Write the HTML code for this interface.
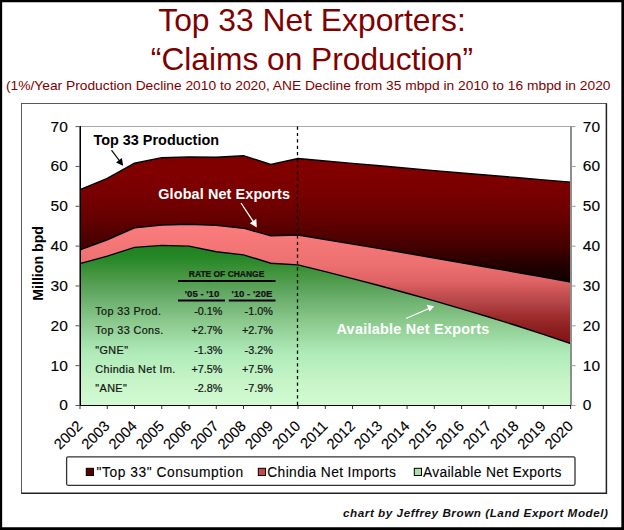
<!DOCTYPE html>
<html><head><meta charset="utf-8"><style>
html,body{margin:0;padding:0;background:#fff;}
body{width:624px;height:530px;overflow:hidden;position:relative;font-family:"Liberation Sans",sans-serif;}
svg{position:absolute;left:0;top:0;}
.ax{font-family:"Liberation Sans",sans-serif;font-size:15.5px;fill:#000;stroke:#000;stroke-width:0.12px;}
.ttl{font-family:"Liberation Sans",sans-serif;fill:#800000;}
.ann{font-family:"Liberation Sans",sans-serif;font-weight:bold;}
.tb{font-family:"Liberation Sans",sans-serif;font-size:10.8px;fill:#151515;stroke:#151515;stroke-width:0.22px;}
.tbh{font-family:"Liberation Sans",sans-serif;font-weight:bold;fill:#111;stroke:#111;stroke-width:0.2px;}
.lg{font-family:"Liberation Sans",sans-serif;font-size:13.8px;fill:#000;stroke:#000;stroke-width:0.1px;}
</style></head><body>
<svg width="624" height="530" viewBox="0 0 624 530">
<defs>
<linearGradient id="gm" gradientUnits="userSpaceOnUse" x1="0" y1="155" x2="0" y2="284"><stop offset="0.000" stop-color="rgb(128,0,0)"/><stop offset="0.155" stop-color="rgb(128,0,0)"/><stop offset="0.310" stop-color="rgb(120,0,0)"/><stop offset="0.504" stop-color="rgb(100,0,0)"/><stop offset="0.698" stop-color="rgb(70,0,0)"/><stop offset="0.791" stop-color="rgb(50,0,0)"/><stop offset="0.868" stop-color="rgb(33,0,0)"/><stop offset="1.000" stop-color="rgb(15,0,0)"/></linearGradient>
<linearGradient id="gp" gradientUnits="userSpaceOnUse" x1="0" y1="224" x2="0" y2="343"><stop offset="0.000" stop-color="rgb(250,125,125)"/><stop offset="0.067" stop-color="rgb(248,122,122)"/><stop offset="0.345" stop-color="rgb(237,112,112)"/><stop offset="0.487" stop-color="rgb(222,98,100)"/><stop offset="0.555" stop-color="rgb(205,85,85)"/><stop offset="0.664" stop-color="rgb(178,68,72)"/><stop offset="0.773" stop-color="rgb(160,45,45)"/><stop offset="0.874" stop-color="rgb(140,32,32)"/><stop offset="1.000" stop-color="rgb(135,18,18)"/></linearGradient>
<linearGradient id="gg" gradientUnits="userSpaceOnUse" x1="0" y1="245" x2="0" y2="405.5"><stop offset="0.000" stop-color="rgb(30,128,30)"/><stop offset="0.081" stop-color="rgb(38,135,38)"/><stop offset="0.187" stop-color="rgb(70,150,65)"/><stop offset="0.299" stop-color="rgb(98,168,100)"/><stop offset="0.474" stop-color="rgb(138,200,140)"/><stop offset="0.673" stop-color="rgb(175,235,185)"/><stop offset="0.860" stop-color="rgb(200,245,200)"/><stop offset="1.000" stop-color="rgb(210,250,210)"/></linearGradient>
</defs>
<rect x="0" y="0" width="624" height="530" fill="#fff"/>
<text x="312" y="31" text-anchor="middle" class="ttl" font-size="31.8">Top 33 Net Exporters:</text>
<text x="312" y="70.2" text-anchor="middle" class="ttl" font-size="31.7">“Claims on Production”</text>
<text x="6" y="90" class="ttl" font-size="13" textLength="604.5" lengthAdjust="spacingAndGlyphs">(1%/Year Production Decline 2010 to 2020, ANE Decline from 35 mbpd in 2010 to 16 mbpd in 2020</text>
<rect x="21.5" y="103.5" width="585" height="390" fill="#fff" stroke="#5a5a5a" stroke-width="1"/>
<path d="M21.5,493.3 L606.4,493.3 L606.4,103.5" fill="none" stroke="#222" stroke-width="1.5"/>
<line x1="80" y1="126.5" x2="571" y2="126.5" stroke="#aaa" stroke-width="1"/>
<path d="M80.00,405.5 L80.00,263.66 107.26,256.09 134.51,247.32 161.77,245.33 189.02,246.13 216.28,251.71 243.53,254.89 270.79,263.26 298.04,264.85 325.30,271.63 352.56,278.61 379.81,285.80 407.07,293.22 434.32,300.88 461.58,308.81 488.83,317.01 516.09,325.52 543.34,334.36 570.60,343.53 L570.60,405.5 Z" fill="url(#gg)"/>
<path d="M80.00,249.91 107.26,239.75 134.51,227.80 161.77,225.01 189.02,224.22 216.28,225.41 243.53,228.20 270.79,235.77 298.04,234.97 325.30,239.51 352.56,244.08 379.81,248.67 407.07,253.31 434.32,257.98 461.58,262.69 488.83,267.44 516.09,272.23 543.34,277.06 570.60,281.95 L570.60,343.53 543.34,334.36 516.09,325.52 488.83,317.01 461.58,308.81 434.32,300.88 407.07,293.22 379.81,285.80 352.56,278.61 325.30,271.63 298.04,264.85 270.79,263.26 243.53,254.89 216.28,251.71 189.02,246.13 161.77,245.33 134.51,247.32 107.26,256.09 80.00,263.66 Z" fill="url(#gp)"/>
<path d="M80.00,189.55 107.26,178.40 134.51,163.26 161.77,157.68 189.02,156.88 216.28,157.28 243.53,155.69 270.79,164.45 298.04,158.47 325.30,160.94 352.56,163.39 379.81,165.81 407.07,168.21 434.32,170.58 461.58,172.93 488.83,175.26 516.09,177.56 543.34,179.84 570.60,182.09 L570.60,281.95 543.34,277.06 516.09,272.23 488.83,267.44 461.58,262.69 434.32,257.98 407.07,253.31 379.81,248.67 352.56,244.08 325.30,239.51 298.04,234.97 270.79,235.77 243.53,228.20 216.28,225.41 189.02,224.22 161.77,225.01 134.51,227.80 107.26,239.75 80.00,249.91 Z" fill="url(#gm)"/>
<path d="M80.00,189.55 107.26,178.40 134.51,163.26 161.77,157.68 189.02,156.88 216.28,157.28 243.53,155.69 270.79,164.45 298.04,158.47 325.30,160.94 352.56,163.39 379.81,165.81 407.07,168.21 434.32,170.58 461.58,172.93 488.83,175.26 516.09,177.56 543.34,179.84 570.60,182.09" fill="none" stroke="#000" stroke-width="1.4"/>
<path d="M80.00,249.91 107.26,239.75 134.51,227.80 161.77,225.01 189.02,224.22 216.28,225.41 243.53,228.20 270.79,235.77 298.04,234.97 325.30,239.51 352.56,244.08 379.81,248.67 407.07,253.31 434.32,257.98 461.58,262.69 488.83,267.44 516.09,272.23 543.34,277.06 570.60,281.95" fill="none" stroke="#000" stroke-width="1.4"/>
<path d="M80.00,263.66 107.26,256.09 134.51,247.32 161.77,245.33 189.02,246.13 216.28,251.71 243.53,254.89 270.79,263.26 298.04,264.85 325.30,271.63 352.56,278.61 379.81,285.80 407.07,293.22 434.32,300.88 461.58,308.81 488.83,317.01 516.09,325.52 543.34,334.36 570.60,343.53" fill="none" stroke="#000" stroke-width="1.4"/>
<line x1="297.5" y1="126.5" x2="297.5" y2="405" stroke="#000" stroke-width="1.3" stroke-dasharray="3.2,3.2"/>
<line x1="80.5" y1="126" x2="80.5" y2="406" stroke="#000" stroke-width="1"/><line x1="79.5" y1="126" x2="79.5" y2="405" stroke="#777" stroke-width="1"/>
<line x1="571" y1="126" x2="571" y2="406" stroke="#8a9090" stroke-width="2"/>
<line x1="76" y1="405.5" x2="571" y2="405.5" stroke="#000" stroke-width="1"/>
<line x1="75.5" y1="405.50" x2="80" y2="405.50" stroke="#555" stroke-width="1"/><line x1="571" y1="405.50" x2="575.5" y2="405.50" stroke="#999" stroke-width="1"/><text x="67.8" y="410.40" text-anchor="end" class="ax">0</text><text x="582.8" y="410.40" class="ax">0</text><line x1="75.5" y1="365.66" x2="80" y2="365.66" stroke="#555" stroke-width="1"/><line x1="571" y1="365.66" x2="575.5" y2="365.66" stroke="#999" stroke-width="1"/><text x="67.8" y="370.56" text-anchor="end" class="ax">10</text><text x="582.8" y="370.56" class="ax">10</text><line x1="75.5" y1="325.81" x2="80" y2="325.81" stroke="#555" stroke-width="1"/><line x1="571" y1="325.81" x2="575.5" y2="325.81" stroke="#999" stroke-width="1"/><text x="67.8" y="330.71" text-anchor="end" class="ax">20</text><text x="582.8" y="330.71" class="ax">20</text><line x1="75.5" y1="285.97" x2="80" y2="285.97" stroke="#555" stroke-width="1"/><line x1="571" y1="285.97" x2="575.5" y2="285.97" stroke="#999" stroke-width="1"/><text x="67.8" y="290.87" text-anchor="end" class="ax">30</text><text x="582.8" y="290.87" class="ax">30</text><line x1="75.5" y1="246.13" x2="80" y2="246.13" stroke="#555" stroke-width="1"/><line x1="571" y1="246.13" x2="575.5" y2="246.13" stroke="#999" stroke-width="1"/><text x="67.8" y="251.03" text-anchor="end" class="ax">40</text><text x="582.8" y="251.03" class="ax">40</text><line x1="75.5" y1="206.29" x2="80" y2="206.29" stroke="#555" stroke-width="1"/><line x1="571" y1="206.29" x2="575.5" y2="206.29" stroke="#999" stroke-width="1"/><text x="67.8" y="211.19" text-anchor="end" class="ax">50</text><text x="582.8" y="211.19" class="ax">50</text><line x1="75.5" y1="166.44" x2="80" y2="166.44" stroke="#555" stroke-width="1"/><line x1="571" y1="166.44" x2="575.5" y2="166.44" stroke="#999" stroke-width="1"/><text x="67.8" y="171.34" text-anchor="end" class="ax">60</text><text x="582.8" y="171.34" class="ax">60</text><line x1="75.5" y1="126.60" x2="80" y2="126.60" stroke="#555" stroke-width="1"/><line x1="571" y1="126.60" x2="575.5" y2="126.60" stroke="#999" stroke-width="1"/><text x="67.8" y="131.50" text-anchor="end" class="ax">70</text><text x="582.8" y="131.50" class="ax">70</text>
<line x1="80.00" y1="405.5" x2="80.00" y2="409" stroke="#333" stroke-width="1"/><text transform="translate(83.40,427.0) rotate(-45)" text-anchor="end" class="ax" font-size="14.8" style="font-size:14.8px">2002</text><line x1="107.26" y1="405.5" x2="107.26" y2="409" stroke="#333" stroke-width="1"/><text transform="translate(110.66,427.0) rotate(-45)" text-anchor="end" class="ax" font-size="14.8" style="font-size:14.8px">2003</text><line x1="134.51" y1="405.5" x2="134.51" y2="409" stroke="#333" stroke-width="1"/><text transform="translate(137.91,427.0) rotate(-45)" text-anchor="end" class="ax" font-size="14.8" style="font-size:14.8px">2004</text><line x1="161.77" y1="405.5" x2="161.77" y2="409" stroke="#333" stroke-width="1"/><text transform="translate(165.17,427.0) rotate(-45)" text-anchor="end" class="ax" font-size="14.8" style="font-size:14.8px">2005</text><line x1="189.02" y1="405.5" x2="189.02" y2="409" stroke="#333" stroke-width="1"/><text transform="translate(192.42,427.0) rotate(-45)" text-anchor="end" class="ax" font-size="14.8" style="font-size:14.8px">2006</text><line x1="216.28" y1="405.5" x2="216.28" y2="409" stroke="#333" stroke-width="1"/><text transform="translate(219.68,427.0) rotate(-45)" text-anchor="end" class="ax" font-size="14.8" style="font-size:14.8px">2007</text><line x1="243.53" y1="405.5" x2="243.53" y2="409" stroke="#333" stroke-width="1"/><text transform="translate(246.93,427.0) rotate(-45)" text-anchor="end" class="ax" font-size="14.8" style="font-size:14.8px">2008</text><line x1="270.79" y1="405.5" x2="270.79" y2="409" stroke="#333" stroke-width="1"/><text transform="translate(274.19,427.0) rotate(-45)" text-anchor="end" class="ax" font-size="14.8" style="font-size:14.8px">2009</text><line x1="298.04" y1="405.5" x2="298.04" y2="409" stroke="#333" stroke-width="1"/><text transform="translate(301.44,427.0) rotate(-45)" text-anchor="end" class="ax" font-size="14.8" style="font-size:14.8px">2010</text><line x1="325.30" y1="405.5" x2="325.30" y2="409" stroke="#333" stroke-width="1"/><text transform="translate(328.70,427.0) rotate(-45)" text-anchor="end" class="ax" font-size="14.8" style="font-size:14.8px">2011</text><line x1="352.56" y1="405.5" x2="352.56" y2="409" stroke="#333" stroke-width="1"/><text transform="translate(355.96,427.0) rotate(-45)" text-anchor="end" class="ax" font-size="14.8" style="font-size:14.8px">2012</text><line x1="379.81" y1="405.5" x2="379.81" y2="409" stroke="#333" stroke-width="1"/><text transform="translate(383.21,427.0) rotate(-45)" text-anchor="end" class="ax" font-size="14.8" style="font-size:14.8px">2013</text><line x1="407.07" y1="405.5" x2="407.07" y2="409" stroke="#333" stroke-width="1"/><text transform="translate(410.47,427.0) rotate(-45)" text-anchor="end" class="ax" font-size="14.8" style="font-size:14.8px">2014</text><line x1="434.32" y1="405.5" x2="434.32" y2="409" stroke="#333" stroke-width="1"/><text transform="translate(437.72,427.0) rotate(-45)" text-anchor="end" class="ax" font-size="14.8" style="font-size:14.8px">2015</text><line x1="461.58" y1="405.5" x2="461.58" y2="409" stroke="#333" stroke-width="1"/><text transform="translate(464.98,427.0) rotate(-45)" text-anchor="end" class="ax" font-size="14.8" style="font-size:14.8px">2016</text><line x1="488.83" y1="405.5" x2="488.83" y2="409" stroke="#333" stroke-width="1"/><text transform="translate(492.23,427.0) rotate(-45)" text-anchor="end" class="ax" font-size="14.8" style="font-size:14.8px">2017</text><line x1="516.09" y1="405.5" x2="516.09" y2="409" stroke="#333" stroke-width="1"/><text transform="translate(519.49,427.0) rotate(-45)" text-anchor="end" class="ax" font-size="14.8" style="font-size:14.8px">2018</text><line x1="543.34" y1="405.5" x2="543.34" y2="409" stroke="#333" stroke-width="1"/><text transform="translate(546.74,427.0) rotate(-45)" text-anchor="end" class="ax" font-size="14.8" style="font-size:14.8px">2019</text><line x1="570.60" y1="405.5" x2="570.60" y2="409" stroke="#333" stroke-width="1"/><text transform="translate(574.00,427.0) rotate(-45)" text-anchor="end" class="ax" font-size="14.8" style="font-size:14.8px">2020</text>
<text transform="translate(43.1,263.4) rotate(-90)" text-anchor="middle" class="ann" font-size="14.2">Million bpd</text>
<text x="93.4" y="145.4" class="ann" fill="#000" font-size="14.4" textLength="125.6" lengthAdjust="spacing">Top 33 Production</text>
<text x="158.3" y="198.8" class="ann" fill="#fff" font-size="14.4" textLength="131.6" lengthAdjust="spacing">Global Net Exports</text>
<text x="336.5" y="334.2" class="ann" fill="#fff" font-size="14.4" textLength="152.8" lengthAdjust="spacing">Available Net Exports</text>
<!-- arrows -->
<line x1="111.5" y1="150" x2="120.5" y2="162" stroke="#111" stroke-width="1.25"/>
<path d="M123.1,165.8 L116,162.4 L121.9,157.9 Z" fill="#000"/>
<line x1="241" y1="203" x2="253.6" y2="222.2" stroke="#fff" stroke-width="1.3"/>
<path d="M256.8,227.4 L249.8,223.2 L256.3,218.7 Z" fill="#fff"/>
<line x1="406" y1="318.5" x2="429" y2="308.5" stroke="#fff" stroke-width="1.3"/>
<path d="M434.2,306.3 L426.6,304.8 L429.6,311.4 Z" fill="#fff"/>
<!-- table -->
<text x="188.8" y="276.8" class="tbh" font-size="8.3" textLength="75.5" lengthAdjust="spacingAndGlyphs">RATE OF CHANGE</text>
<line x1="178" y1="281" x2="275.5" y2="281" stroke="#000" stroke-width="2"/>
<text x="184.8" y="296.5" class="tbh" font-size="9.6" textLength="34.5" lengthAdjust="spacing">'05 - '10</text>
<text x="231.4" y="296.5" class="tbh" font-size="9.6" textLength="41" lengthAdjust="spacing">'10 - '20E</text>
<line x1="178" y1="300.5" x2="225" y2="300.5" stroke="#000" stroke-width="1.8"/>
<line x1="228.8" y1="300.5" x2="275.5" y2="300.5" stroke="#000" stroke-width="1.8"/>
<g class="tb">
<text x="95.3" y="314.8" letter-spacing="0.4">Top 33 Prod.</text><text x="222.4" y="314.8" text-anchor="end">-0.1%</text><text x="272.8" y="314.8" text-anchor="end">-1.0%</text>
<text x="95.3" y="334.1" letter-spacing="0.4">Top 33 Cons.</text><text x="222.4" y="334.1" text-anchor="end">+2.7%</text><text x="272.8" y="334.1" text-anchor="end">+2.7%</text>
<text x="95.3" y="353.5" letter-spacing="0.4">"GNE"</text><text x="222.4" y="353.5" text-anchor="end">-1.3%</text><text x="272.8" y="353.5" text-anchor="end">-3.2%</text>
<text x="95.3" y="372.9" letter-spacing="0.4">Chindia Net Im.</text><text x="222.4" y="372.9" text-anchor="end">+7.5%</text><text x="272.8" y="372.9" text-anchor="end">+7.5%</text>
<text x="95.3" y="392.2" letter-spacing="0.4">"ANE"</text><text x="222.4" y="392.2" text-anchor="end">-2.8%</text><text x="272.8" y="392.2" text-anchor="end">-7.9%</text>
</g>
<!-- legend -->
<rect x="66.6" y="456.8" width="508.4" height="28.5" rx="1.5" fill="#fff" stroke="#333" stroke-width="1.3"/>
<rect x="86.3" y="468.3" width="7.2" height="7.2" fill="#5a0000" stroke="#000" stroke-width="1"/>
<text x="96.6" y="476.8" class="lg" textLength="146.5" lengthAdjust="spacing">"Top 33" Consumption</text>
<rect x="258.3" y="468.3" width="7.2" height="7.2" fill="#c84848" stroke="#000" stroke-width="1"/>
<text x="267.3" y="476.8" class="lg" textLength="128.5" lengthAdjust="spacing">Chindia Net Imports</text>
<rect x="414.3" y="468.3" width="7.2" height="7.2" fill="#a8e0a8" stroke="#000" stroke-width="1"/>
<text x="422.9" y="476.8" class="lg" textLength="138.5" lengthAdjust="spacing">Available Net Exports</text>
<text x="343" y="516.8" font-family="Liberation Sans" font-weight="bold" font-style="italic" font-size="11.7" textLength="265" lengthAdjust="spacing" fill="#111">chart by Jeffrey Brown (Land Export Model)</text>
<!-- outer border -->
<path d="M0,0 H624 V530 H0 Z M2.15,2.15 V527.25 H621.35 V2.15 Z" fill="#000" fill-rule="evenodd"/>
</svg>
</body></html>
